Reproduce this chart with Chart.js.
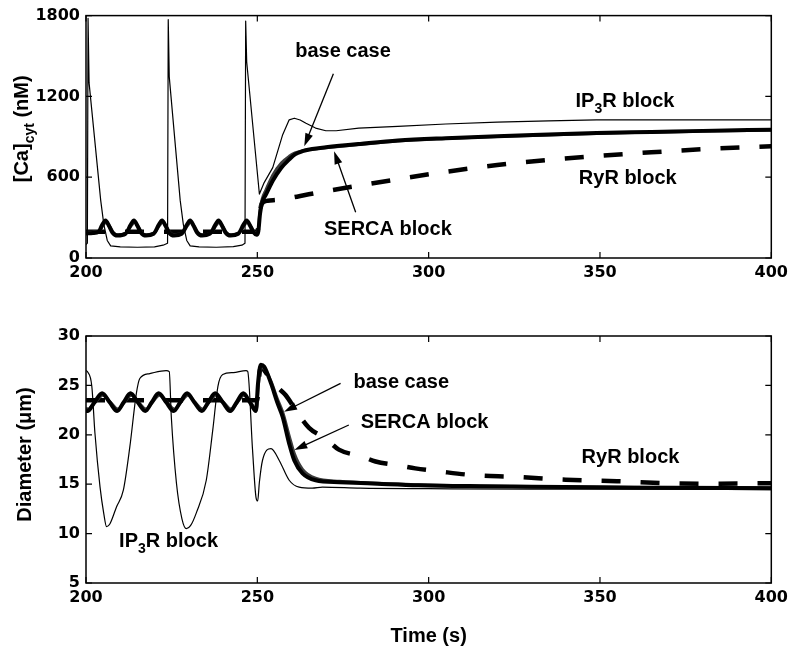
<!DOCTYPE html>
<html>
<head>
<meta charset="utf-8">
<script src="https://cdn.jsdelivr.net/npm/chart.js@4.4.1/dist/chart.umd.min.js"></script>
<style>
  body { margin: 0; background: #fff; }
  #wrap { position: relative; width: 793px; height: 653px; }
  canvas { position: absolute; left: 0; }
</style>
</head>
<body>
<div id="wrap">
  <canvas id="caChart" width="793" height="300" style="top:0"></canvas>
  <canvas id="diamChart" width="793" height="353" style="top:300px"></canvas>
</div>
<script>
// ---- top panel: [Ca]cyt (nM) ----
const caIp3T = [200, 200.4, 200.6, 200.9, 204.3, 205.2, 206.2, 207.2, 210, 215, 220, 222.5, 223.8, 224.0, 224.3, 227.5, 228.4, 229.4, 230.4, 233, 238, 243, 245.5, 246.4, 246.6, 246.9, 250.6, 252, 254.5, 257.4, 259.3, 260.8, 262.5, 264.2, 267, 270, 273, 279.6, 291, 305, 320, 335, 349, 370, 400];
const caIp3V = [100, 110, 1780, 1300, 426, 250, 130, 90, 82, 80, 83, 95, 110, 1770, 1345, 426, 250, 130, 90, 82, 80, 84, 95, 110, 1760, 1455, 475, 560, 671, 916, 1026, 1038, 1025, 1001, 965, 945, 945, 965, 977, 995, 1009, 1018, 1026, 1026, 1026];

const caBaseT = [200, 202, 203.7, 204.7, 205.7, 206.7, 207.7, 209.2, 211.5, 212, 213, 214, 215, 216, 217.5, 219.7, 220.2, 221.2, 222.2, 223.2, 224.2, 225.7, 227.9, 228.4, 229.4, 230.4, 231.4, 232.4, 233.9, 236.1, 236.7, 237.7, 238.7, 239.7, 240.7, 242.2, 244.4, 244.9, 245.9, 246.9, 247.9, 248.9, 249.8, 250.3, 250.8, 251.5, 252.5, 254.5, 257, 259.3, 261, 263.2, 266, 270, 280, 291, 305, 320, 335, 349, 365, 380, 400];
const caBaseV = [182, 185, 195, 245, 279, 240, 190, 167, 180, 195, 245, 279, 240, 190, 167, 180, 195, 245, 279, 240, 190, 167, 180, 195, 245, 279, 240, 190, 167, 180, 195, 245, 279, 240, 190, 167, 180, 195, 245, 279, 240, 190, 172, 200, 330, 420, 470, 573, 670, 732, 770, 793, 810, 822, 847, 872, 890, 905, 917, 928, 936, 944, 953];

const caSercaT = [200, 203.9, 204.9, 205.9, 206.9, 207.9, 209.4, 211.7, 212.2, 213.2, 214.2, 215.2, 216.2, 217.7, 219.9, 220.4, 221.4, 222.4, 223.4, 224.4, 225.9, 228.1, 228.6, 229.6, 230.6, 231.6, 232.6, 234.1, 236.3, 236.9, 237.9, 238.9, 239.9, 240.9, 242.4, 244.6, 245.1, 246.1, 247.1, 248.1, 249.1, 249.9, 250.3, 250.8, 251.5, 252.5, 254.5, 257, 259.3, 261, 263.2, 266, 270, 280, 291, 305, 320, 335, 349, 365, 380, 400];
const caSercaV = [190, 200, 240, 265, 235, 192, 172, 185, 200, 240, 265, 235, 192, 172, 185, 200, 240, 265, 235, 192, 172, 185, 200, 240, 265, 235, 192, 172, 185, 200, 240, 265, 235, 192, 172, 185, 200, 240, 265, 235, 192, 180, 215, 360, 445, 505, 615, 705, 755, 780, 797, 807, 818, 843, 868, 887, 902, 914, 925, 934, 942, 950];

const caRyrT = [200, 225, 250, 250.6, 251.2, 253, 256, 259.3, 265, 275, 291, 305, 320, 335, 349, 365, 380, 400];
const caRyrV = [195, 195, 195, 300, 400, 425, 432, 445, 473, 518, 585, 640, 690, 728, 757, 785, 808, 830];

// ---- bottom panel: Diameter (um) ----
const dIp3T = [200, 200.4, 201.7, 202.6, 204.1, 205.2, 206, 207, 208.9, 210.9, 212.8, 214.7, 215.7, 218.6, 223.4, 224.3, 224.9, 226.4, 228, 229.3, 230.5, 232.2, 235.1, 237, 238.5, 239.9, 243, 246.7, 247.2, 248.6, 249.6, 250.1, 250.6, 251.5, 254, 256.4, 259.3, 262.2, 266, 269, 280, 300, 330, 360, 400];
const dIp3V = [26.5, 26.4, 24.9, 20.2, 14.7, 12.0, 10.7, 11.0, 12.7, 14.4, 18.8, 24.2, 25.7, 26.2, 26.5, 26.4, 21.8, 15.1, 11.5, 10.5, 10.8, 12.1, 15.4, 20.5, 24.9, 26.1, 26.3, 26.5, 26.4, 18.5, 13.7, 13.3, 15.2, 17.4, 18.6, 17.4, 15.4, 14.7, 14.6, 14.7, 14.6, 14.55, 14.5, 14.5, 14.45];

const dBaseT = [200, 200.4, 202.5, 204.7, 206.9, 209.1, 211, 213, 215.1, 217.3, 219.2, 221.2, 223.4, 225.6, 227.5, 229.5, 231.6, 233.8, 235.7, 237.7, 239.9, 242.1, 244, 245.9, 247.8, 249.6, 250.2, 251, 252, 254, 255.9, 257.4, 259.3, 260.8, 263.2, 267, 274, 285, 297, 315, 330, 360, 400];
const dBaseV = [22.5, 22.4, 23.3, 24.2, 23.3, 22.4, 23.3, 24.2, 23.3, 22.4, 23.3, 24.2, 23.3, 22.4, 23.3, 24.2, 23.3, 22.4, 23.3, 24.2, 23.3, 22.4, 23.3, 24.2, 23.3, 22.4, 25.2, 27.1, 26.9, 25.2, 23.2, 21.8, 19.1, 17.4, 16.1, 15.4, 15.2, 15.05, 14.9, 14.8, 14.75, 14.65, 14.6];

const dSercaT = [200, 200.6, 202.7, 204.9, 207.1, 209.3, 211.2, 213.2, 215.3, 217.5, 219.4, 221.4, 223.6, 225.8, 227.7, 229.7, 231.8, 234, 235.9, 237.9, 240.1, 242.3, 244.2, 246.1, 248, 249.7, 250.3, 251, 252, 254, 255.9, 257.4, 259.3, 260.8, 263.2, 267, 274, 297, 330, 360, 400];
const dSercaV = [22.7, 22.6, 23.3, 24.0, 23.3, 22.6, 23.3, 24.0, 23.3, 22.6, 23.3, 24.0, 23.3, 22.6, 23.3, 24.0, 23.3, 22.6, 23.3, 24.0, 23.3, 22.6, 23.3, 24.0, 23.3, 22.6, 25.0, 26.8, 26.7, 25.4, 23.6, 22.3, 19.9, 18.1, 16.5, 15.6, 15.3, 14.95, 14.75, 14.7, 14.65];

const dRyrT = [200, 250, 250.3, 251, 252.5, 254.4, 256.5, 258.3, 261.2, 265.1, 270, 273.8, 280.6, 284.5, 291.3, 296.1, 303, 313.6, 325, 340, 355, 370, 385, 400];
const dRyrV = [23.5, 23.5, 25.0, 26.8, 26.3, 25.2, 24.6, 24.0, 22.5, 20.7, 19.6, 18.5, 17.8, 17.3, 16.9, 16.6, 16.3, 15.9, 15.75, 15.45, 15.3, 15.1, 15.05, 15.1];

const timeTicks = [200, 250, 300, 350, 400];
const caTicks = [0, 600, 1200, 1800];
const diamTicks = [5, 10, 15, 20, 25, 30];

const labelFont = 'bold 20px "Liberation Sans", Arial, sans-serif';
const subFont = 'bold 14px "Liberation Sans", Arial, sans-serif';
const tickFont = { family: '"DejaVu Sans", sans-serif', size: 16, weight: 'bold' };

function pts(ts, vs) {
  return ts.map((t, i) => ({ x: t, y: vs[i] }));
}

// text with subscripts, centred on x, baseline at y
function drawRich(ctx, parts, x, y) {
  let w = 0;
  parts.forEach(p => { ctx.font = p[1] ? subFont : labelFont; w += ctx.measureText(p[0]).width; });
  let cx = x - w / 2;
  ctx.textAlign = 'left';
  ctx.textBaseline = 'alphabetic';
  parts.forEach(p => {
    ctx.font = p[1] ? subFont : labelFont;
    ctx.fillText(p[0], cx, p[1] ? y + 6 : y);
    cx += ctx.measureText(p[0]).width;
  });
}

function drawArrow(ctx, x1, y1, x2, y2) {
  const ang = Math.atan2(y2 - y1, x2 - x1);
  const len = 13, half = 4;
  ctx.beginPath();
  ctx.moveTo(x1, y1);
  ctx.lineTo(x2 - Math.cos(ang) * len * 0.8, y2 - Math.sin(ang) * len * 0.8);
  ctx.lineWidth = 1.3;
  ctx.stroke();
  ctx.beginPath();
  ctx.moveTo(x2, y2);
  ctx.lineTo(x2 - Math.cos(ang) * len - Math.sin(ang) * half, y2 - Math.sin(ang) * len + Math.cos(ang) * half);
  ctx.lineTo(x2 - Math.cos(ang) * len + Math.sin(ang) * half, y2 - Math.sin(ang) * len - Math.cos(ang) * half);
  ctx.closePath();
  ctx.fill();
}

// box, inward ticks, text labels and arrows (matlab look)
const decorPlugin = {
  id: 'decor',
  afterDraw(chart, args, opts) {
    const { ctx, chartArea: a, scales: { x, y } } = chart;
    ctx.save();
    ctx.strokeStyle = '#000';
    ctx.fillStyle = '#000';
    ctx.lineWidth = 1.5;
    ctx.strokeRect(a.left, a.top, a.right - a.left, a.bottom - a.top);
    ctx.lineWidth = 1.2;
    ctx.beginPath();
    x.ticks.forEach(tk => {
      const px = x.getPixelForValue(tk.value);
      ctx.moveTo(px, a.bottom); ctx.lineTo(px, a.bottom - 6);
      ctx.moveTo(px, a.top); ctx.lineTo(px, a.top + 6);
    });
    y.ticks.forEach(tk => {
      const py = y.getPixelForValue(tk.value);
      ctx.moveTo(a.left, py); ctx.lineTo(a.left + 6, py);
      ctx.moveTo(a.right, py); ctx.lineTo(a.right - 6, py);
    });
    ctx.stroke();

    (opts.labels || []).forEach(l => {
      drawRich(ctx, l.parts, x.getPixelForValue(l.t), y.getPixelForValue(l.v));
    });
    (opts.arrows || []).forEach(ar => {
      drawArrow(ctx, x.getPixelForValue(ar.from[0]), y.getPixelForValue(ar.from[1]),
                x.getPixelForValue(ar.to[0]), y.getPixelForValue(ar.to[1]));
    });
    if (opts.xTitle) {
      drawRich(ctx, opts.xTitle.parts, (a.left + a.right) / 2, opts.xTitle.y);
    }
    if (opts.yTitle) {
      ctx.translate(opts.yTitle.x, (a.top + a.bottom) / 2 + opts.yTitle.dy);
      ctx.rotate(-Math.PI / 2);
      drawRich(ctx, opts.yTitle.parts, 0, 0);
    }
    ctx.restore();
  }
};

function lineSet(data, width, color, dash, straight) {
  return {
    data: data,
    borderColor: color,
    borderWidth: width,
    borderDash: dash || [],
    borderCapStyle: 'butt',
    borderJoinStyle: 'round',
    pointRadius: 0,
    fill: false,
    tension: 0,
    cubicInterpolationMode: straight ? 'default' : 'monotone'
  };
}

function makeOptions(yTicks, padTop, xHeight, decor) {
  return {
    responsive: false,
    animation: false,
    layout: { padding: { left: 0, right: 19, top: padTop, bottom: 0 } },
    plugins: { legend: { display: false }, tooltip: { enabled: false }, decor: decor },
    scales: {
      x: {
        type: 'linear', min: timeTicks[0], max: timeTicks[timeTicks.length - 1],
        grid: { display: false, drawTicks: false }, border: { display: false },
        afterBuildTicks: s => { s.ticks = timeTicks.map(v => ({ value: v })); },
        ticks: { padding: 5, color: '#000', font: tickFont, maxRotation: 0, autoSkip: false,
                 callback: v => String(v) },
        afterFit: s => { s.height = xHeight; }
      },
      y: {
        type: 'linear', min: yTicks[0], max: yTicks[yTicks.length - 1],
        grid: { display: false, drawTicks: false }, border: { display: false },
        afterBuildTicks: s => { s.ticks = yTicks.map(v => ({ value: v })); },
        ticks: { padding: 6, color: '#000', font: tickFont, autoSkip: false,
                 callback: v => String(v) },
        afterFit: s => { s.width = 86; }
      }
    }
  };
}

new Chart(document.getElementById('caChart'), {
  type: 'line',
  data: {
    datasets: [
      lineSet(pts(caIp3T, caIp3V), 1.2, '#000', null, true),
      lineSet(pts(caBaseT, caBaseV), 4, '#000'),
      lineSet(pts(caSercaT, caSercaV), 3, '#3c3c3c'),
      lineSet(pts(caRyrT, caRyrV), 4.5, '#000', [19, 20])
    ]
  },
  options: makeOptions(caTicks, 13, 42, {
    labels: [
      { parts: [['base case']], t: 275, v: 1491 },
      { parts: [['SERCA block']], t: 288.1, v: 169 },
      { parts: [['IP'], ['3', true], ['R block']], t: 357.3, v: 1124 },
      { parts: [['RyR block']], t: 358.1, v: 553 }
    ],
    arrows: [
      { from: [272.2, 1369], to: [263.7, 830] },
      { from: [278.7, 340], to: [272.4, 793] }
    ],
    yTitle: { x: 28, dy: -8, parts: [['[Ca]'], ['cyt', true], [' (nM)']] }
  }),
  plugins: [decorPlugin]
});

new Chart(document.getElementById('diamChart'), {
  type: 'line',
  data: {
    datasets: [
      lineSet(pts(dIp3T, dIp3V), 1.2, '#000'),
      lineSet(pts(dBaseT, dBaseV), 4, '#000'),
      lineSet(pts(dSercaT, dSercaV), 3, '#3c3c3c'),
      lineSet(pts(dRyrT, dRyrV), 4.5, '#000', [19, 20])
    ]
  },
  options: makeOptions(diamTicks, 36, 70, {
    labels: [
      { parts: [['base case']], t: 292, v: 24.71 },
      { parts: [['SERCA block']], t: 298.8, v: 20.66 },
      { parts: [['RyR block']], t: 358.9, v: 17.12 },
      { parts: [['IP'], ['3', true], ['R block']], t: 224.1, v: 8.67 }
    ],
    arrows: [
      { from: [274.3, 25.21], to: [257.8, 22.34] },
      { from: [276.7, 20.99], to: [260.8, 18.46] }
    ],
    xTitle: { y: 342, parts: [['Time (s)']] },
    yTitle: { x: 31, dy: -5, parts: [['Diameter (\u03bcm)']] }
  }),
  plugins: [decorPlugin]
});
</script>
</body>
</html>
